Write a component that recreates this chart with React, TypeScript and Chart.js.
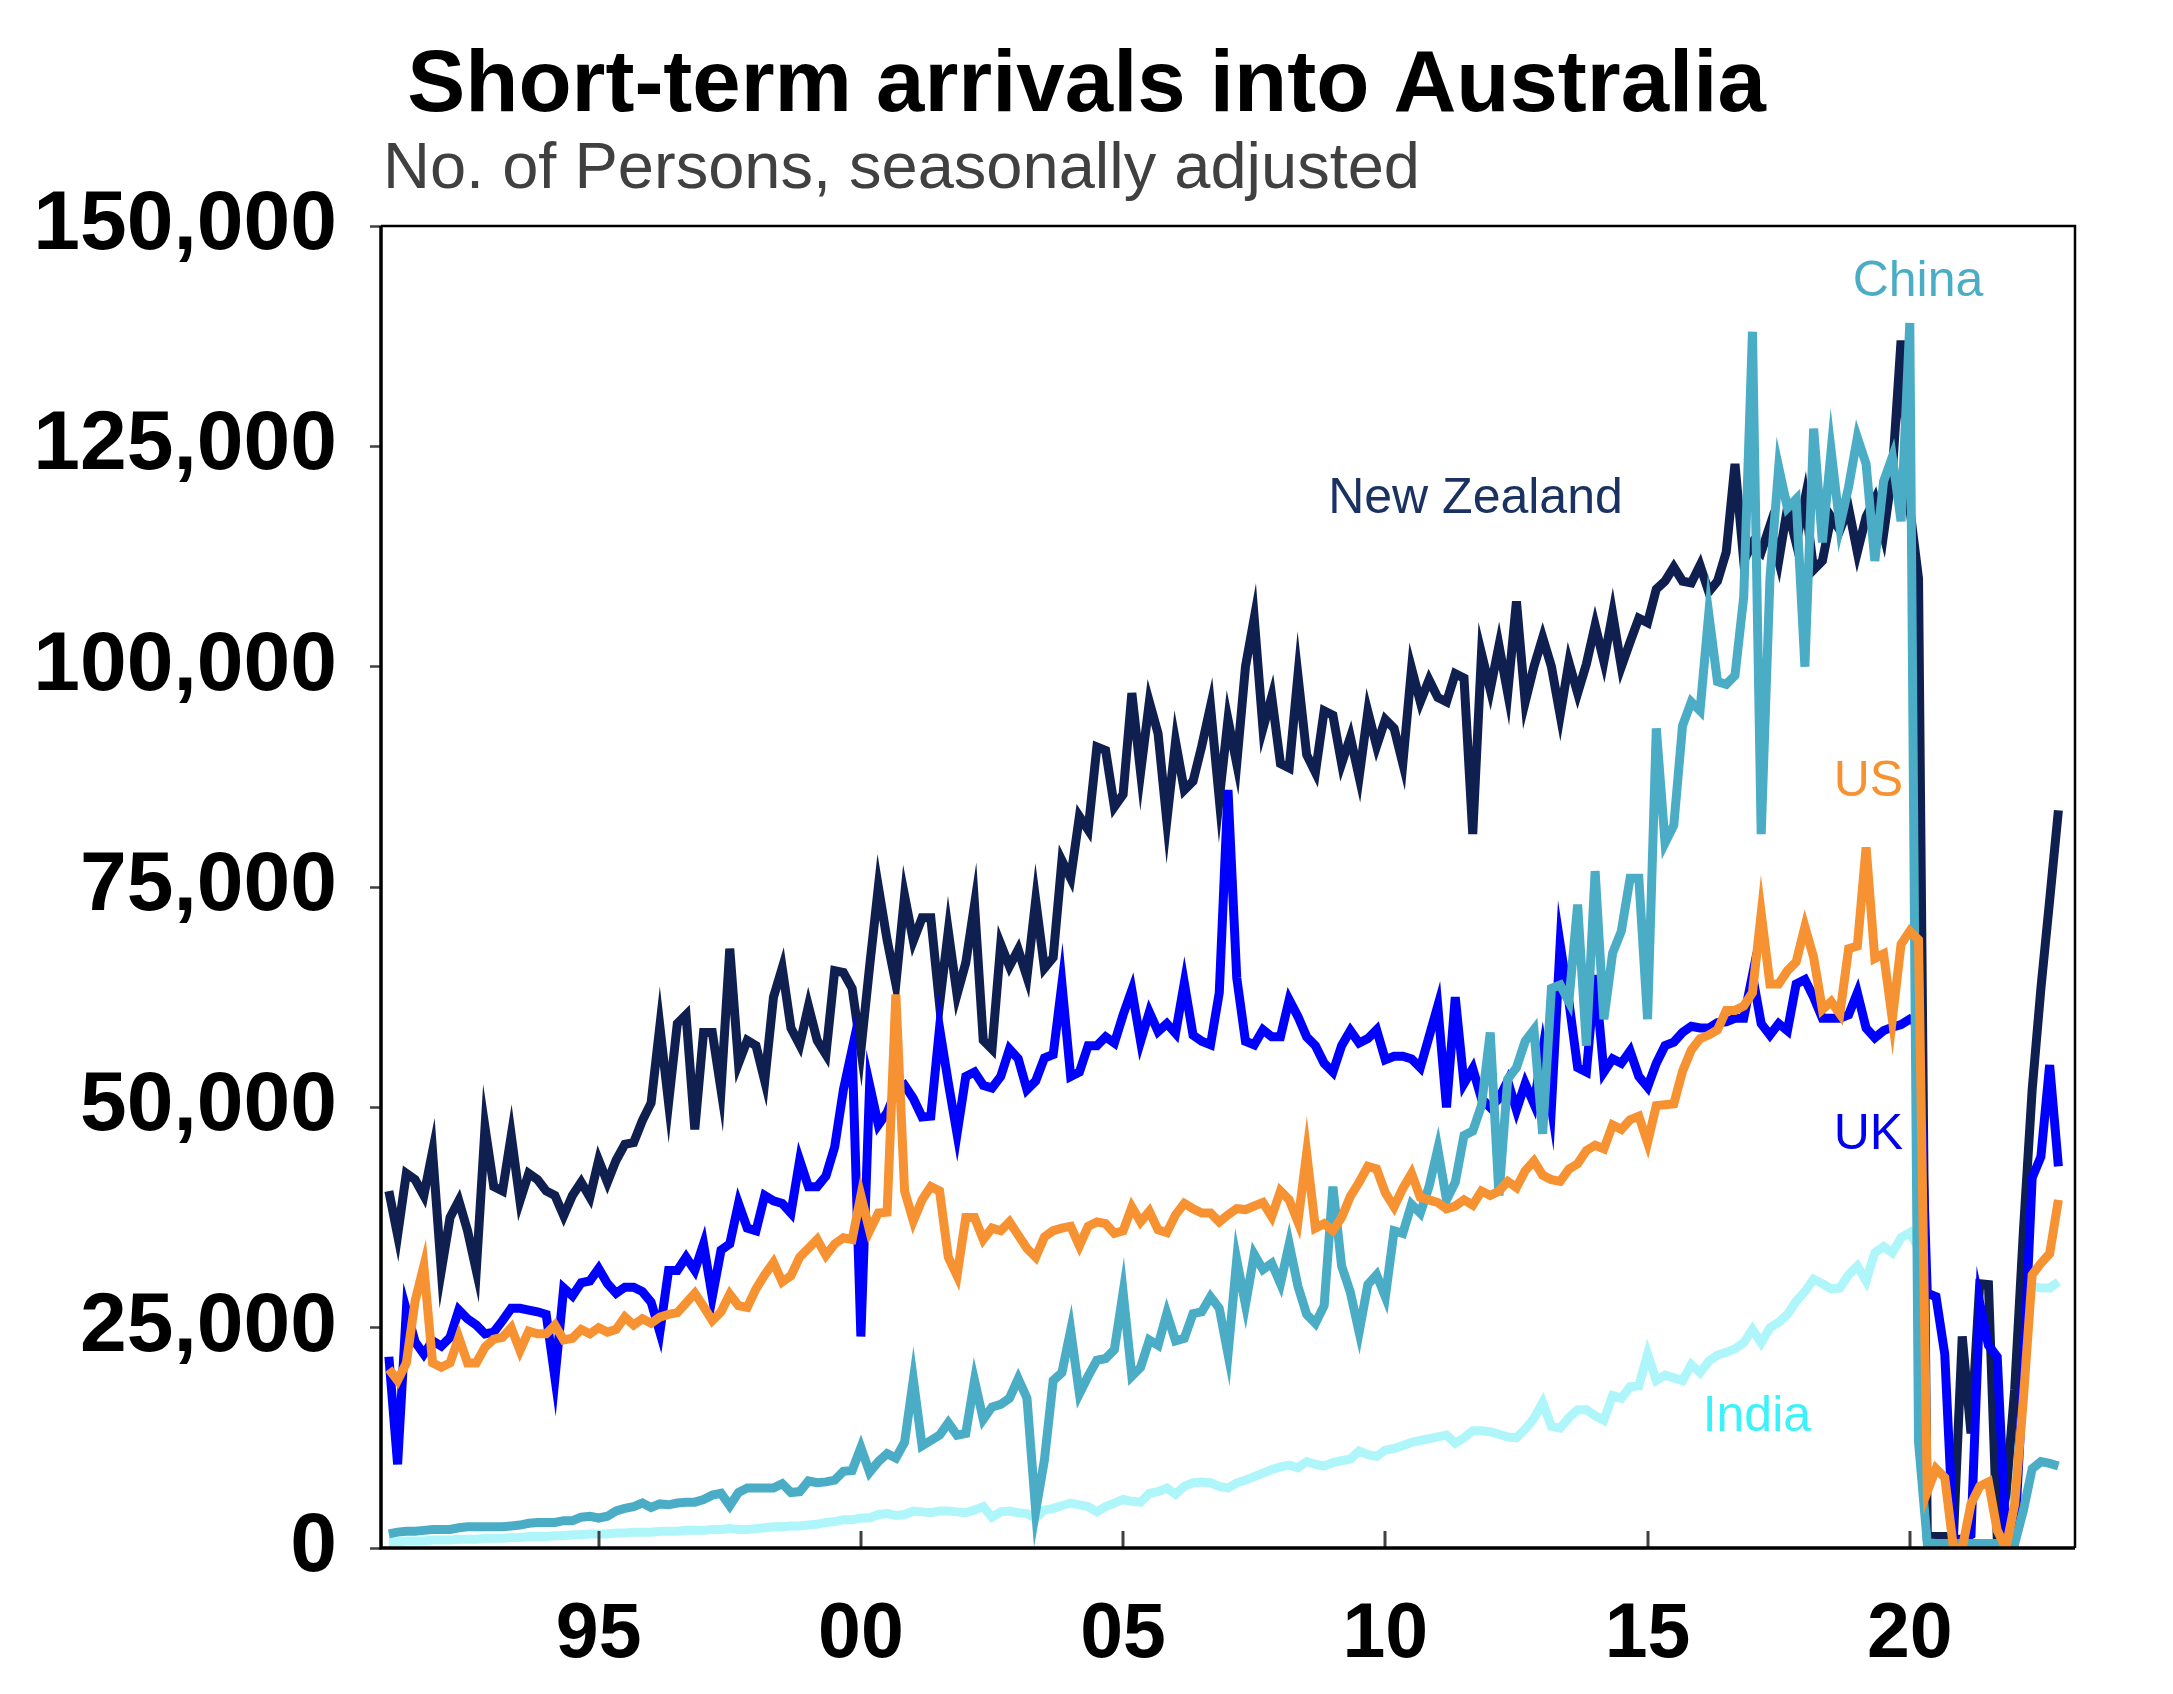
import React, { useEffect, useRef } from 'react';
import { Chart, registerables } from 'chart.js';

Chart.register(...registerables);

// ---------------- data (thousands of persons, bi-monthly from Jan 1991) ----------------
const START_YEAR = 1991;
const STEP_YEARS = 1 / 6;

const xTickYears = [1995, 2000, 2005, 2010, 2015, 2020];
const yTickValues = [0, 25000, 50000, 75000, 100000, 125000, 150000];

const nzValues = [
  40.5, 35.5, 42.5, 41.8, 40.0, 45.0, 31.5, 37.5, 39.4, 36.0,
  31.5, 47.7, 41.0, 40.5, 46.8, 39.4, 42.5, 41.8, 40.5, 40.0,
  37.7, 40.0, 41.5, 39.8, 44.0, 41.5, 44.0, 45.8, 46.0, 48.5,
  50.5, 59.2, 50.5, 59.5, 60.5, 47.5, 58.5, 58.5, 52.0, 68.0,
  55.0, 57.6, 57.0, 53.0, 62.5, 65.8, 59.0, 57.1, 61.5, 57.6,
  56.0, 65.5, 65.3, 63.5, 56.5, 66.0, 75.0, 69.0, 64.0, 74.0,
  68.9, 71.5, 71.5, 61.7, 70.0, 62.8, 66.4, 73.0, 57.6, 56.6,
  68.5, 66.0, 67.9, 64.8, 73.5, 65.8, 67.0, 78.0,
  76.0, 83.0, 81.5, 90.9, 90.5, 84.1, 85.5, 97.0, 88.0, 96.0,
  92.4, 82.5, 91.5, 86.0, 87.0, 91.0, 95.5, 85.0, 94.0, 89.0,
  100.0, 105.5, 93.0, 96.6, 89.0, 88.5, 99.0, 90.0, 88.0, 95.0,
  94.5, 89.0, 92.0, 87.5, 94.9, 91.0, 94.0, 93.0, 89.0, 99.8,
  96.0, 98.5, 96.5, 96.0, 99.2, 98.7, 81.0, 101.5, 97.4, 102.4,
  97.0, 107.4, 96.0, 100.0, 103.3, 100.0, 94.5, 100.5, 97.0, 100.3,
  104.7, 100.6, 106.0, 100.0, 102.8, 105.5, 105.0, 108.8, 109.7, 111.3,
  109.7, 109.5, 111.5, 108.5, 109.7, 113.0, 123.0, 112.0,
  114.0, 113.0, 116.0, 112.0, 118.0, 114.0, 119.0, 111.0, 112.0, 117.0,
  115.5, 118.0, 113.0, 117.0, 119.0, 115.0, 122.0, 137.0,
  118.0, 110.0, 1.3, 1.3, 1.3, 1.3, 24.0, 13.0, 30.0, 29.9,
  1.3, 6.0, 18.0, 36.0, 52.0, 63.5, 73.5, 83.7,
];

const ukValues = [
  21.7, 9.5, 27.0, 23.4, 22.0, 23.5, 22.9, 23.9, 27.0, 26.0,
  25.3, 24.3, 24.5, 25.8, 27.2, 27.2, 27.0, 26.8, 26.5, 19.3,
  29.5, 28.6, 30.1, 30.3, 31.7, 30.0, 28.9, 29.6, 29.6, 29.1,
  27.9, 24.5, 31.5, 31.5, 33.0, 31.5, 34.5, 28.5, 33.8, 34.5,
  39.1, 36.3, 36.0, 40.0, 39.4, 39.1, 38.0, 44.0, 41.0, 41.0,
  42.2, 45.5, 52.0, 56.6, 24.0, 52.5, 48.0, 49.4, 51.8, 52.5,
  51.0, 48.9, 49.0, 59.0, 52.8, 47.0, 53.5, 54.0, 52.5, 52.2,
  53.5, 56.6, 55.5, 52.0, 53.0, 55.6, 56.0, 64.0,
  53.5, 54.0, 57.0, 57.0, 58.0, 57.3, 60.5, 63.3, 57.5, 60.8,
  58.6, 59.5, 58.4, 64.1, 58.2, 57.5, 57.1, 63.0, 86.0, 64.7,
  57.5, 57.1, 58.8, 58.0, 58.0, 62.2, 60.3, 58.0, 57.0, 55.0,
  54.0, 57.0, 58.7, 57.3, 57.8, 58.8, 55.4, 55.8, 55.8, 55.5,
  54.5, 58.0, 61.5, 50.0, 62.5, 52.7, 54.4, 51.0, 50.0, 51.0,
  53.0, 49.7, 52.7, 50.4, 56.5, 50.0, 68.5, 62.0, 54.5, 54.0,
  65.0, 54.0, 55.5, 55.0, 56.4, 53.5, 52.3, 55.0, 57.0, 57.4,
  58.5, 59.2, 59.0, 59.0, 59.6, 59.7, 60.1, 60.1,
  65.0, 59.5, 58.2, 59.5, 58.7, 64.0, 64.5, 62.5, 60.1, 60.1,
  60.1, 60.5, 63.0, 59.0, 57.9, 58.7, 59.1, 59.4,
  60.0, 59.5, 28.9, 28.5, 22.0, 1.0, 1.0, 1.5, 27.8, 23.0,
  21.7, 1.0, 1.0, 20.0, 42.0, 44.4, 54.8, 43.3,
];

const usValues = [
  20.3, 19.0, 21.0, 28.0, 32.0, 21.0, 20.5, 21.0, 23.9, 21.0,
  21.0, 22.8, 23.7, 23.9, 25.0, 22.4, 24.6, 24.3, 24.3, 25.3,
  23.6, 23.8, 24.8, 24.3, 25.0, 24.5, 24.8, 26.2, 25.3, 26.0,
  25.5, 26.2, 26.5, 26.7, 27.8, 28.9, 27.4, 25.8, 26.8, 28.8,
  27.5, 27.3, 29.4, 31.0, 32.4, 30.2, 30.9, 33.0, 34.0, 35.0,
  33.2, 34.5, 35.2, 35.0, 40.0, 36.0, 38.0, 38.1, 62.8, 40.5,
  37.1, 39.5, 41.0, 40.5, 33.0, 30.9, 37.5, 37.5, 35.0, 36.3,
  36.0, 37.0, 35.5, 34.0, 33.0, 35.3, 36.0, 36.3,
  36.5, 34.3, 36.5, 37.0, 36.8, 35.7, 36.0, 38.7, 37.0, 38.2,
  36.1, 35.8, 37.8, 39.1, 38.5, 38.0, 38.0, 37.0, 37.8, 38.5,
  38.4, 38.8, 39.2, 37.6, 40.5, 39.5, 37.0, 44.8, 36.3, 36.8,
  36.0, 37.5, 39.9, 41.5, 43.3, 43.0, 40.3, 38.7, 40.8, 42.5,
  39.8, 39.5, 39.2, 38.5, 38.8, 39.5, 38.9, 40.5, 40.0, 40.5,
  41.6, 40.9, 42.8, 43.9, 42.3, 41.8, 41.6, 43.0, 43.6, 45.1,
  45.7, 45.3, 48.0, 47.5, 48.6, 49.0, 46.0, 50.2, 50.3, 50.4,
  54.1, 56.5, 57.8, 58.2, 58.8, 61.0, 61.0, 61.5,
  63.0, 72.0, 64.0, 64.0, 65.5, 66.5, 70.5, 67.0, 61.1, 62.0,
  60.6, 68.0, 68.3, 79.5, 66.9, 67.4, 60.0, 68.5,
  70.0, 69.0, 6.4, 9.0, 8.0, 0.0, 0.0, 5.0, 7.0, 7.5,
  2.0, 0.0, 5.0, 17.0, 31.0, 32.3, 33.4, 39.5,
];

const chinaValues = [
  1.6, 1.8, 1.9, 1.9, 2.0, 2.1, 2.1, 2.1, 2.3, 2.4,
  2.4, 2.4, 2.4, 2.4, 2.5, 2.6, 2.8, 2.9, 2.9, 2.9,
  3.1, 3.1, 3.5, 3.6, 3.4, 3.6, 4.2, 4.5, 4.7, 5.1,
  4.6, 5.0, 4.9, 5.1, 5.2, 5.2, 5.5, 6.0, 6.2, 4.8,
  6.3, 6.8, 6.8, 6.8, 6.8, 7.3, 6.3, 6.4, 7.6, 7.4,
  7.5, 7.7, 8.7, 8.8, 11.4, 8.6, 9.8, 10.7, 10.2, 12.0,
  19.1, 11.6, 12.2, 12.8, 14.2, 12.8, 13.0, 19.0, 14.6, 16.0,
  16.3, 17.0, 19.2, 17.0, 4.2, 10.0, 19.0, 19.9,
  24.7, 17.5, 19.5, 21.3, 21.5, 22.5, 29.0, 19.5, 20.5, 23.6,
  23.0, 26.6, 23.5, 23.8, 26.6, 26.8, 28.5, 27.2, 22.0, 32.7,
  27.6, 33.3, 31.6, 32.3, 30.0, 34.5, 29.7, 26.5, 25.5, 27.5,
  41.0, 32.0, 29.0, 24.5, 29.9, 31.0, 28.5, 36.0, 35.7, 39.0,
  38.0, 41.0, 45.3, 39.5, 41.5, 46.8, 47.3, 50.2, 58.5, 40.0,
  53.2, 54.5, 57.5, 58.8, 47.0, 63.5, 63.9, 62.0, 73.0, 57.0,
  76.8, 60.0, 67.5, 70.0, 76.0, 76.0, 60.0, 93.0, 80.0, 82.0,
  93.3, 96.0, 95.0, 106.0, 98.3, 98.0, 99.0, 107.9,
  138.0, 81.0, 110.0, 122.6, 118.0, 119.0, 100.0, 127.0, 114.1, 124.5,
  116.0, 120.4, 126.0, 123.0, 112.0, 121.0, 123.8, 116.5,
  139.0, 12.0, 0.6, 0.5, 0.5, 0.5, 0.5, 0.5, 0.5, 0.5,
  0.5, 0.5, 0.5, 4.3, 9.0, 9.8, 9.6, 9.3,
];

const indiaValues = [
  0.7, 0.7, 0.8, 0.8, 0.8, 0.9, 0.9, 0.9, 1.0, 1.0,
  1.0, 1.1, 1.1, 1.1, 1.2, 1.2, 1.3, 1.3, 1.3, 1.4,
  1.4, 1.5, 1.5, 1.6, 1.6, 1.6, 1.7, 1.7, 1.8, 1.8,
  1.8, 1.9, 1.9, 1.9, 2.0, 2.0, 2.0, 2.1, 2.1, 2.2,
  2.1, 2.1, 2.2, 2.3, 2.4, 2.4, 2.5, 2.5, 2.6, 2.7,
  2.9, 3.0, 3.2, 3.2, 3.4, 3.4, 3.8, 3.9, 3.7, 3.8,
  4.2, 4.1, 4.0, 4.2, 4.2, 4.1, 4.0, 4.3, 4.7, 3.5,
  4.1, 4.2, 4.0, 3.9, 3.4, 4.3, 4.5, 4.8,
  5.1, 4.9, 4.7, 4.1, 4.7, 5.1, 5.5, 5.3, 5.2, 6.2,
  6.4, 6.8, 6.1, 7.0, 7.4, 7.5, 7.4, 7.0, 6.8, 7.4,
  7.7, 8.1, 8.5, 8.9, 9.2, 9.4, 9.1, 9.8, 9.5, 9.3,
  9.7, 9.9, 10.1, 11.0, 10.6, 10.4, 11.1, 11.3, 11.6, 12.0,
  12.2, 12.4, 12.6, 12.8, 11.9, 12.5, 13.3, 13.3, 13.2, 12.9,
  12.6, 12.5, 13.5, 14.7, 16.5, 13.8, 13.6, 14.8, 15.7, 15.7,
  15.0, 14.5, 17.3, 17.0, 18.3, 18.4, 22.0, 19.0, 19.6, 19.3,
  19.0, 20.8, 19.9, 21.2, 21.9, 22.2, 22.6, 23.3,
  24.8, 23.3, 25.0, 25.6, 26.5, 28.0, 29.1, 30.5, 30.0, 29.4,
  29.5, 31.0, 32.0, 30.3, 33.5, 34.2, 33.5, 35.2,
  35.8, 34.0, 0.8, 0.5, 0.5, 0.5, 0.5, 0.5, 0.5, 0.5,
  0.5, 2.0, 14.0, 28.0, 29.7, 29.5, 29.5, 30.2,
];

// series: drawn top-most first
const seriesNames = ['US', 'China', 'UK', 'New Zealand', 'India'];
const seriesValues = [usValues, chinaValues, ukValues, nzValues, indiaValues];
const lineColors = ['#F79232', '#4BACC6', '#0000FF', '#0F1F4F', '#AFF6FA'];
const labelColors = ['#F79232', '#4BACC6', '#0000F0', '#1A3262', '#3CF2FA'];
// label anchors in data units: [year, thousands] (left, baseline)
const labelAnchors: [number, number][] = [
  [2018.55, 85.3],
  [2018.91, 142.1],
  [2018.55, 45.3],
  [2008.91, 117.4],
  [2016.05, 13.3],
];

const TITLE = 'Short-term arrivals into Australia';
const SUBTITLE = 'No. of Persons, seasonally adjusted';

const FONT = '"Liberation Sans", Arial, Helvetica, sans-serif';

function fmtThousands(v: number): string {
  const s = String(Math.round(v));
  return s.replace(/\B(?=(\d{3})+(?!\d))/g, ',');
}

function toPoints(values: number[]) {
  return values.map((v, i) => ({ x: START_YEAR + i * STEP_YEARS, y: v * 1000 }));
}

const decorPlugin = {
  id: 'decor',
  afterDatasetsDraw(chart: any) {
    const { ctx, chartArea: a, scales } = chart;
    ctx.save();
    // inner tick marks on the x axis
    ctx.strokeStyle = '#404040';
    ctx.lineWidth = 3;
    for (const yr of xTickYears) {
      const px = Math.round(scales.x.getPixelForValue(yr));
      ctx.beginPath();
      ctx.moveTo(px, a.bottom);
      ctx.lineTo(px, a.bottom - 17);
      ctx.stroke();
    }
    // frame
    ctx.strokeStyle = '#000000';
    ctx.lineWidth = 2.5;
    ctx.beginPath();
    ctx.moveTo(a.left, a.top);
    ctx.lineTo(a.right, a.top);
    ctx.lineTo(a.right, a.bottom);
    ctx.stroke();
    ctx.lineWidth = 3.5;
    ctx.beginPath();
    ctx.moveTo(a.left, a.top);
    ctx.lineTo(a.left, a.bottom);
    ctx.lineTo(a.right, a.bottom);
    ctx.stroke();
    // series labels
    ctx.font = `50px ${FONT}`;
    ctx.textAlign = 'left';
    ctx.textBaseline = 'alphabetic';
    seriesNames.forEach((name, i) => {
      const [yr, val] = labelAnchors[i];
      ctx.fillStyle = labelColors[i];
      ctx.fillText(name, scales.x.getPixelForValue(yr), scales.y.getPixelForValue(val * 1000));
    });
    ctx.restore();
  },
  afterDraw(chart: any) {
    const { ctx, chartArea: a, width } = chart;
    ctx.save();
    ctx.fillStyle = '#000000';
    ctx.font = `bold 87px ${FONT}`;
    ctx.textAlign = 'center';
    ctx.textBaseline = 'alphabetic';
    ctx.fillText(TITLE, width / 2, 111);
    ctx.fillStyle = '#404040';
    ctx.font = `65px ${FONT}`;
    ctx.textAlign = 'left';
    ctx.fillText(SUBTITLE, a.left + 2, 188);
    ctx.restore();
  },
};

export default function App() {
  const canvasRef = useRef<HTMLCanvasElement | null>(null);

  useEffect(() => {
    document.body.style.margin = '0';
    document.body.style.overflow = 'hidden';
    const canvas = canvasRef.current;
    if (!canvas) return;

    const datasets = seriesNames.map((name, i) => ({
      label: name,
      data: toPoints(seriesValues[i]),
      borderColor: lineColors[i],
      backgroundColor: lineColors[i],
      borderWidth: 9,
      pointRadius: 0,
      pointHoverRadius: 0,
      fill: false,
      tension: 0,
    }));

    const chart = new Chart(canvas, {
      type: 'line',
      data: { datasets },
      options: {
        responsive: false,
        animation: false,
        events: [],
        layout: { padding: { top: 226, right: 98, bottom: 0, left: 0 } },
        plugins: {
          legend: { display: false },
          title: { display: false },
          tooltip: { enabled: false },
        },
        scales: {
          x: {
            type: 'linear',
            min: 1990.85,
            max: 2023.15,
            afterBuildTicks: (scale: any) => {
              scale.ticks = xTickYears.map((v) => ({ value: v }));
            },
            afterFit: (scale: any) => {
              scale.height = 146;
            },
            grid: { display: false, drawTicks: false, drawOnChartArea: false },
            border: { display: false },
            ticks: {
              autoSkip: false,
              maxRotation: 0,
              minRotation: 0,
              padding: 42,
              color: '#000000',
              font: { family: FONT, size: 77, weight: 'bold' },
              callback: (v: any) => String(Number(v) % 100).padStart(2, '0'),
            },
          },
          y: {
            type: 'linear',
            min: 0,
            max: 150000,
            afterBuildTicks: (scale: any) => {
              scale.ticks = yTickValues.map((v) => ({ value: v }));
            },
            afterFit: (scale: any) => {
              scale.width = 381;
            },
            grid: {
              drawOnChartArea: false,
              drawTicks: true,
              tickLength: 11,
              tickWidth: 2.5,
              tickColor: '#404040',
              color: '#404040',
            },
            border: { display: false },
            ticks: {
              padding: 33,
              color: '#000000',
              font: { family: FONT, size: 84, weight: 'bold' },
              callback: (v: any) => fmtThousands(Number(v)),
            },
          },
        },
      },
      plugins: [decorPlugin],
    } as any);

    return () => {
      chart.destroy();
    };
  }, []);

  return (
    <canvas
      ref={canvasRef}
      width={2173}
      height={1694}
      style={{ display: 'block', width: '2173px', height: '1694px' }}
    />
  );
}
